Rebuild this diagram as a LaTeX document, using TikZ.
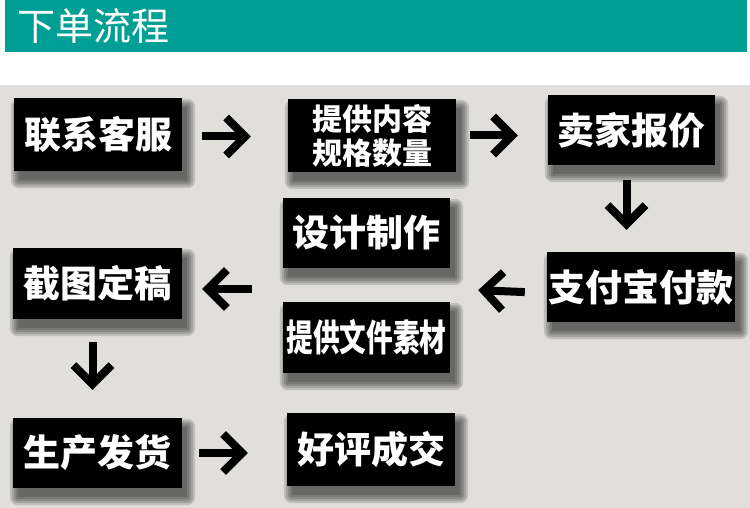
\documentclass[tikz,border=0pt]{standalone}
\usepackage{fontspec}
\usepackage{graphicx}
\newfontfamily\cjk{Noto Sans CJK SC}
\usetikzlibrary{arrows.meta,calc}
\pgfdeclarelayer{back}
\pgfdeclarelayer{shade}
\pgfsetlayers{back,shade,main}
\definecolor{headteal}{HTML}{009F96}
\definecolor{bggray}{HTML}{E0DFDB}
\tikzset{
  box/.style={fill=black, text=white, inner sep=0pt, align=center,
    font=\cjk\bfseries\fontsize{37}{40}\selectfont},
  twoline/.style={font=\cjk\bfseries\fontsize{30}{34}\selectfont},
  arr/.style={line width=8pt, -{Straight Barb[length=19pt,width=38pt]}},
}
\begin{document}
\begin{tikzpicture}[x=1pt,y=-1pt]
\useasboundingbox (0,0) rectangle (750,508);
\begin{pgfonlayer}{back}
  \fill[white] (0,0) rectangle (750,508);
  \fill[headteal] (5,0) rectangle (747,52);
  \fill[bggray] (0,85) rectangle (750,508);
\end{pgfonlayer}
\node[text=white, font=\cjk\fontsize{38}{40}\selectfont, anchor=west, inner sep=0pt] (title) at (17,26) {下单流程};

\node[box, minimum width=168pt, minimum height=73pt] (a) at (98,134.5) {联系客服};
\node[box, twoline, minimum width=168pt, minimum height=73pt] (b) at (372,135.5) {提供内容\\规格数量};
\node[box, minimum width=167pt, minimum height=70pt] (c) at (631.5,130) {卖家报价};
\node[box, minimum width=188pt, minimum height=70pt] (d) at (641,287) {支付宝付款};
\node[box, minimum width=167pt, minimum height=70pt] (e) at (366.5,233) {设计制作};
\node[box, minimum width=167pt, minimum height=71pt] (f) at (366.5,337.5) {\scalebox{0.72}[1]{提供文件素材}};
\node[box, minimum width=169pt, minimum height=71pt] (g) at (97.5,283.5) {截图定稿};
\node[box, minimum width=169pt, minimum height=70pt] (h) at (97.5,453) {生产发货};
\node[box, minimum width=168pt, minimum height=73pt] (i) at (371,449.5) {好评成交};

\coordinate (efr) at ($(e.south east)!0.5!(f.north east)$);
\coordinate (efl) at ($(e.south west)!0.5!(f.north west)$);

\begin{pgfonlayer}{shade}
\foreach \n in {a,b,c,d,e,f,g,h,i}{
  \foreach \k in {0,2,4,6,8}{
    \fill[black,opacity=0.14,rounded corners=\k pt]
      ($(\n.north west)+({5-\k},{9-\k})$) rectangle ($(\n.south east)+({5+\k},{9+\k})$);
  }
}
\end{pgfonlayer}

\draw[arr, shorten <=20pt, shorten >=37pt] ([yshift=-2pt]a.east) -- ([yshift=-2pt]a.east -| b.west);
\draw[arr, shorten <=14pt, shorten >=30pt] (b.east) -- (b.east -| c.west);
\draw[arr, shorten <=15pt, shorten >=22pt] ([xshift=-5pt]c.south) -- ([xshift=-5pt]c.south |- d.north);
\draw[arr, shorten <=22pt, shorten >=28pt] ([yshift=-6pt]d.west) -- ([yshift=-4pt]efr);
\draw[arr, shorten <=31pt, shorten >=20pt] ([yshift=-4pt]efl) -- ([yshift=-4pt]efl -| g.east);
\draw[arr, shorten <=23pt, shorten >=28pt] ([xshift=-5pt]g.south) -- ([xshift=-5pt]g.south |- h.north);
\draw[arr, shorten <=17pt, shorten >=39pt] (h.east) -- (h.east -| i.west);
\end{tikzpicture}
\end{document}
